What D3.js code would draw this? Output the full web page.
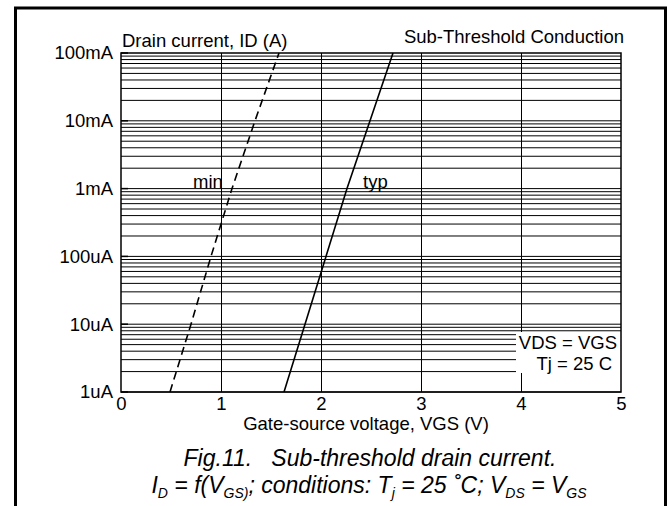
<!DOCTYPE html>
<html>
<head>
<meta charset="utf-8">
<script src="https://cdn.jsdelivr.net/npm/d3@7"></script>
<style>
html,body{margin:0;padding:0;background:#fff;}
svg{display:block;font-family:"Liberation Sans",Arial,Helvetica,sans-serif;}
</style>
</head>
<body>
<svg id="chart" width="668" height="506"></svg>
<script>
// ---- data ----
const xTickValues = [0, 1, 2, 3, 4, 5];
const xTickLabels = ["0", "1", "2", "3", "4", "5"];
const yTickValues = [1e-6, 1e-5, 1e-4, 1e-3, 1e-2, 1e-1];
const yTickLabels = ["1uA", "10uA", "100uA", "1mA", "10mA", "100mA"];
const currents = [1e-6, 1e-5, 1e-4, 1e-3, 1e-2, 1e-1];
const vgsMin = [0.49, 0.70, 0.90, 1.11, 1.34, 1.58];
const vgsTyp = [1.63, 1.84, 2.05, 2.26, 2.49, 2.72];
const seriesNames = ["min", "typ"];

const FS = 18.5;
const svg = d3.select("#chart");
const L = 121, R = 621, T = 53, B = 392;
const x = d3.scaleLinear().domain([0, 5]).range([L, R]);
const y = d3.scaleLog().domain([1e-6, 1e-1]).range([B, T]);

// outer frame
svg.append("rect").attr("x", 15.5).attr("y", 8).attr("width", 650).attr("height", 520)
  .attr("fill", "none").attr("stroke", "#000").attr("stroke-width", 3);

// minor horizontal grid
const minorVals = [];
for (let e = -6; e < -1; e++) for (let m = 1; m <= 9; m++) minorVals.push(m * Math.pow(10, e));
const g = svg.append("g");
g.selectAll("line.h").data(minorVals).enter().append("line")
  .attr("x1", L).attr("x2", R).attr("y1", d => y(d)).attr("y2", d => y(d))
  .attr("stroke", "#000").attr("stroke-width", 1);
// vertical grid
g.selectAll("line.v").data(xTickValues.slice(1, -1)).enter().append("line")
  .attr("x1", d => x(d) + 0.5).attr("x2", d => x(d) + 0.5).attr("y1", T).attr("y2", B)
  .attr("stroke", "#000").attr("stroke-width", 1);
// decade ticks
g.selectAll("line.t").data(yTickValues).enter().append("line")
  .attr("x1", L).attr("x2", L + 7).attr("y1", d => y(d)).attr("y2", d => y(d))
  .attr("stroke", "#000").attr("stroke-width", 1.5);

// curves
const line = d3.line().x(d => x(d[0])).y(d => y(d[1]));
const minPts = vgsMin.map((v, i) => [v, currents[i]]);
const typPts = vgsTyp.map((v, i) => [v, currents[i]]);
svg.append("path").attr("d", line(minPts)).attr("fill", "none").attr("stroke", "#000")
  .attr("stroke-width", 1.6).attr("stroke-dasharray", "8,5");
svg.append("path").attr("d", line(typPts)).attr("fill", "none").attr("stroke", "#000")
  .attr("stroke-width", 1.6);

// legend box
svg.append("rect").attr("x", 516).attr("y", 332).attr("width", R - 516).attr("height", 41)
  .attr("fill", "#fff");
svg.append("text").attr("x", 617).attr("y", 349).attr("text-anchor", "end")
  .attr("font-size", FS).text("VDS = VGS");
svg.append("text").attr("x", 612).attr("y", 370).attr("text-anchor", "end")
  .attr("font-size", FS).text("Tj = 25 C");

// plot border
svg.append("rect").attr("x", L).attr("y", T).attr("width", R - L).attr("height", B - T)
  .attr("fill", "none").attr("stroke", "#000").attr("stroke-width", 1.5);

// axes (labels only, via d3 axis)
const xAxis = d3.axisBottom(x).tickValues(xTickValues).tickFormat((d, i) => xTickLabels[i]).tickSize(0).tickPadding(5);
const xg = svg.append("g").attr("transform", `translate(0,${B})`).call(xAxis);
xg.select(".domain").remove();
xg.selectAll("text").attr("font-size", FS).attr("fill", "#000").attr("font-family", "Liberation Sans, Arial, sans-serif");

const yAxis = d3.axisLeft(y).tickValues(yTickValues).tickFormat((d, i) => yTickLabels[i]).tickSize(0).tickPadding(8);
const yg = svg.append("g").attr("transform", `translate(${L},0)`).call(yAxis);
yg.select(".domain").remove();
yg.selectAll("text").attr("font-size", FS).attr("fill", "#000").attr("font-family", "Liberation Sans, Arial, sans-serif");

// series labels
svg.append("text").attr("x", 193).attr("y", 188).attr("font-size", FS).text(seriesNames[0]);
svg.append("text").attr("x", 363).attr("y", 188).attr("font-size", FS).text(seriesNames[1]);

// titles
svg.append("text").attr("x", 122).attr("y", 47).attr("font-size", FS).text("Drain current, ID (A)");
svg.append("text").attr("x", 624).attr("y", 43).attr("text-anchor", "end").attr("font-size", FS).text("Sub-Threshold Conduction");
svg.append("text").attr("x", 366).attr("y", 430).attr("text-anchor", "middle").attr("font-size", FS)
  .text("Gate-source voltage, VGS (V)");

// caption
svg.append("text").attr("x", 370).attr("y", 466).attr("text-anchor", "middle")
  .attr("font-size", 23).attr("font-style", "italic").attr("xml:space", "preserve")
  .text("Fig.11.   Sub-threshold drain current.");
const cap2 = svg.append("text").attr("x", 369).attr("y", 493).attr("text-anchor", "middle")
  .attr("font-size", 23).attr("font-style", "italic");
const parts = [
  ["I", false], ["D", true], [" = f(V", false], ["GS)", true], ["; conditions: T", false], ["j", true],
  [" = 25 \u02DAC; V", false], ["DS", true], [" = V", false], ["GS", true]
];
let prevSub = false;
parts.forEach(([t, sub]) => {
  const ts = cap2.append("tspan").text(t);
  if (sub) { ts.attr("font-size", 14); }
  if (sub && !prevSub) ts.attr("dy", 5);
  if (!sub && prevSub) ts.attr("dy", -5);
  prevSub = sub;
});
</script>
</body>
</html>
